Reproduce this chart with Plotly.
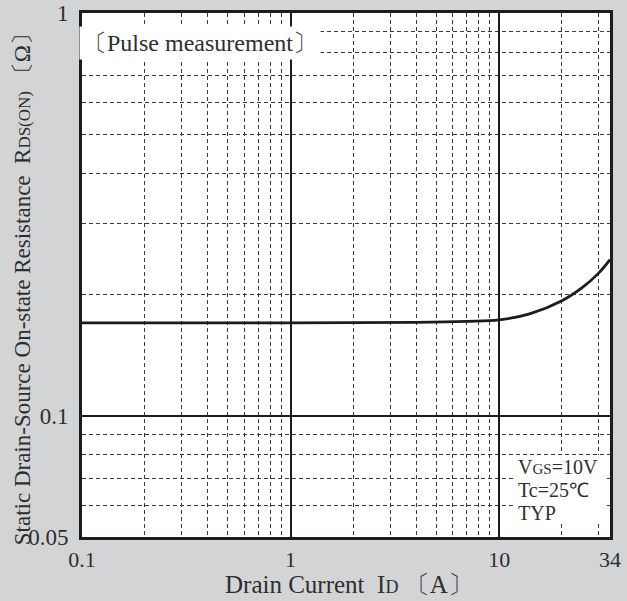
import plotly.graph_objects as go

# Data
drain_current = [0.1, 1, 4, 7, 10, 14, 20, 25, 30, 34]
rds_on = [0.17, 0.17, 0.1705, 0.1715, 0.173, 0.179, 0.193, 0.208, 0.226, 0.244]

x_tick_vals = [0.1, 1, 10, 34]
x_tick_text = ["0.1", "1", "10", "34"]
y_tick_vals = [0.05, 0.1, 1]
y_tick_text = ["0.05", "0.1", "1"]
x_minor = [0.2, 0.3, 0.4, 0.5, 0.6, 0.7, 0.8, 0.9, 2, 3, 4, 5, 6, 7, 8, 9, 20, 30]
y_minor = [0.06, 0.07, 0.08, 0.09, 0.2, 0.3, 0.4, 0.5, 0.6, 0.7, 0.8, 0.9]

SERIF = "Liberation Serif, Times New Roman, serif"
TXT = "#2e2e2e"
INK = "#1c1c1c"
BG = "#d3d4d6"

fig = go.Figure()
fig.add_trace(go.Scatter(
    x=drain_current, y=rds_on, mode="lines",
    line=dict(color=INK, width=2.8, shape="spline", smoothing=1.0),
    showlegend=False, hoverinfo="skip"))

common_axis = dict(
    type="log", showgrid=True, gridcolor=INK, gridwidth=2.2,
    showline=True, linecolor=INK, linewidth=3, mirror=True,
    ticks="", zeroline=False, automargin=False,
)

fig.update_layout(
    width=627, height=601,
    margin=dict(l=82, r=17, t=13, b=64),
    paper_bgcolor=BG, plot_bgcolor="white",
    font=dict(family=SERIF, size=20, color=TXT),
    xaxis=dict(common_axis, range=[-1, 1.5315], tickvals=x_tick_vals,
               ticktext=x_tick_text, ticklabelstandoff=1,
               tickfont=dict(family=SERIF, size=22, color=TXT),
               minor=dict(tickvals=x_minor, showgrid=True, gridcolor="#3a3a3a",
                          gridwidth=1, griddash="4px,3px", ticks="")),
    yaxis=dict(common_axis, range=[-1.30103, 0], tickvals=y_tick_vals,
               ticktext=y_tick_text, ticklabelstandoff=6,
               tickfont=dict(family=SERIF, size=23, color=TXT),
               minor=dict(tickvals=y_minor, showgrid=True, gridcolor="#3a3a3a",
                          gridwidth=1, griddash="4px,3px", ticks="")),
)

# axis titles
fig.add_annotation(
    xref="paper", yref="paper", x=0.505, y=-0.0916, xanchor="center", yanchor="middle",
    text="Drain Current  I<span style='font-size:18px'>D</span> 〔A〕", showarrow=False,
    font=dict(family=SERIF, size=25, color=TXT))
fig.add_annotation(
    xref="paper", yref="paper", x=-0.112, y=0.484, xanchor="center", yanchor="middle",
    textangle=-90,
    text="Static Drain-Source On-state Resistance  R<span style='font-size:17px'>DS(ON)</span> 〔Ω〕",
    showarrow=False, font=dict(family=SERIF, size=23, color=TXT))

# in-plot notes
fig.add_annotation(
    xref="paper", yref="paper", x=-0.006, y=0.943, xanchor="left", yanchor="middle",
    text="〔Pulse measurement〕", showarrow=False, bgcolor="white",
    font=dict(family=SERIF, size=24, color=TXT), borderpad=3)

# white patch behind the condition note
fig.add_shape(type="rect", xref="paper", yref="paper", layer="above",
              x0=(514 - 82) / 528, x1=(606 - 82) / 528,
              y0=(537 - 524) / 524, y1=(537 - 455) / 524,
              fillcolor="white", line=dict(width=0))

note_lines = ["V<span style='font-size:15px'>GS</span>=10V", "Tc=25℃", "TYP"]
note_y = [467, 490, 513]
for txt, py in zip(note_lines, note_y):
    fig.add_annotation(
        xref="paper", yref="paper", x=(517 - 82) / 528, y=(537 - py) / 524,
        xanchor="left", yanchor="middle", text=txt, showarrow=False,
        font=dict(family=SERIF, size=20, color=TXT), borderpad=0)

fig.write_html(
    "out.html",
    config={"displayModeBar": False},
    post_script="document.body.style.margin='0px';document.body.style.background='#d3d4d6';",
)
